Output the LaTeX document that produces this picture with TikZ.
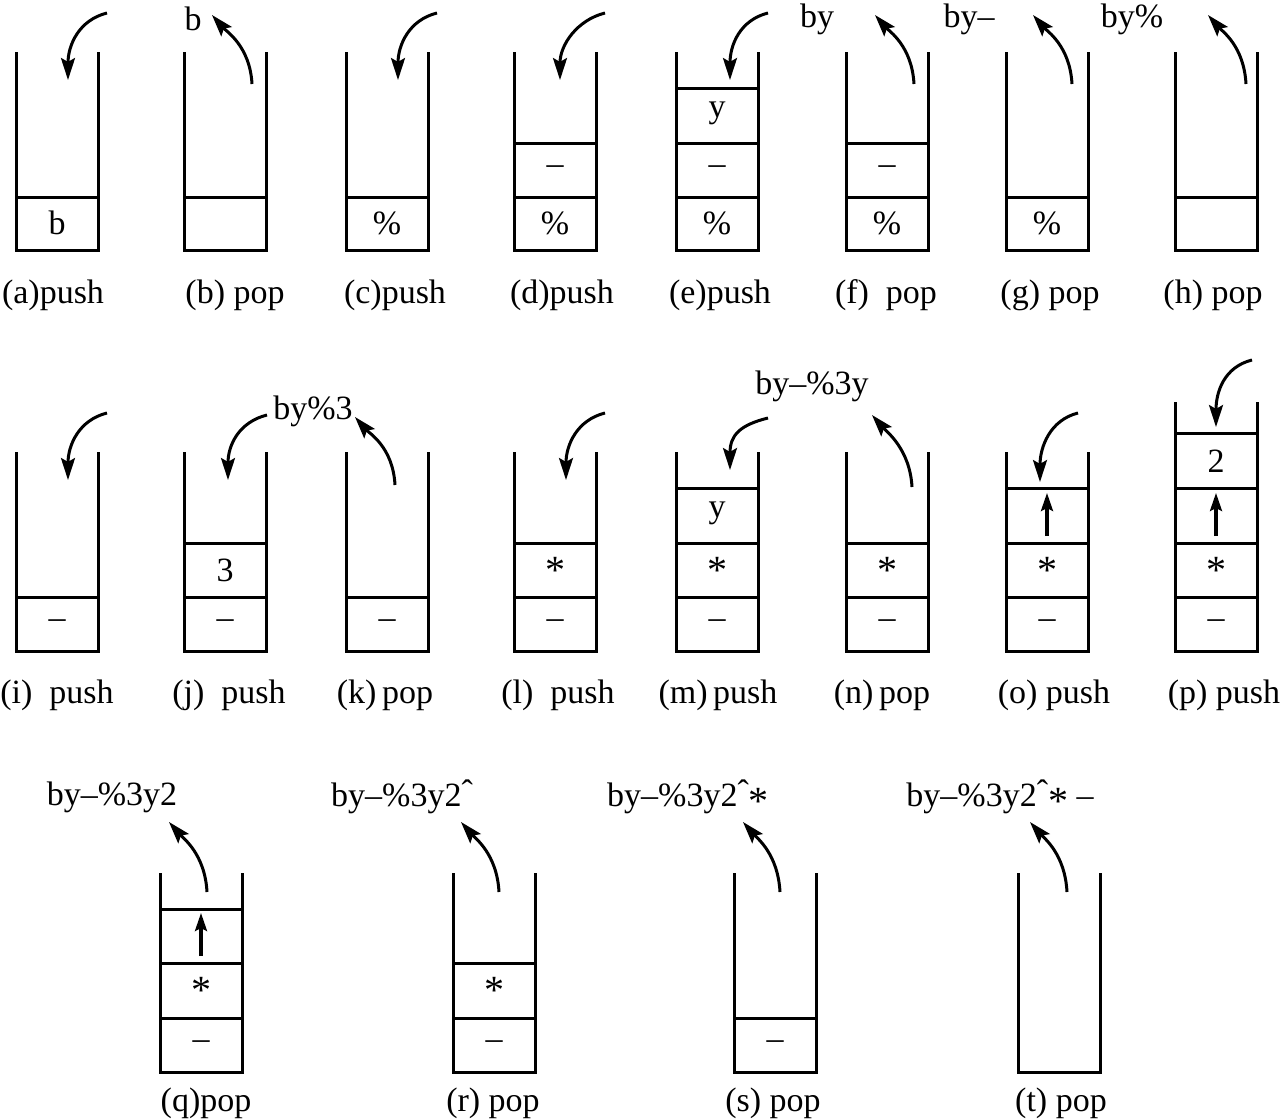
\documentclass[tikz,border=0pt]{standalone}
\usepackage{fontspec}
\setmainfont{Liberation Serif}
\usetikzlibrary{arrows.meta}
\newcommand{\cast}{\raisebox{-0.5ex}{\fontsize{20}{20}\selectfont *}}
\newcommand{\caretmark}{\raisebox{0.2ex}{ˆ}}

\begin{document}
\begin{tikzpicture}[x=0.5pt,y=-0.5pt,
  wall/.style={line width=1.5pt},
  flow/.style={line width=1.5pt,-{Stealth[length=11pt,width=7pt,inset=2pt]}},
  rise/.style={line width=1.6pt,-{Stealth[length=9pt,width=6pt,inset=1.5pt]}},
  txt/.style={font=\fontsize{17}{20}\selectfont,inner sep=0pt},
  ]
  \useasboundingbox (0,0) rectangle (1282,1120);

  % row 1: walls and cell lines
  \foreach \x in {16,184,346,514,676,846,1006,1175}
    \draw[wall] (\x,52) -- (\x,250) -- (\x+82,250) -- (\x+82,52);
  \foreach \x/\y in {16/197,184/197,346/197,514/197,514/143,676/197,676/143,676/88,
                     846/197,846/143,1006/197,1175/197}
    \draw[wall] (\x,\y) -- +(82,0);

  % row 2
  \foreach \x in {16,184,346,514,676,846,1006}
    \draw[wall] (\x,452) -- (\x,651) -- (\x+82,651) -- (\x+82,452);
  \draw[wall] (1175,402) -- (1175,651) -- (1257,651) -- (1257,402);
  \foreach \x/\y in {16/597,184/597,184/543,346/597,514/597,514/543,676/597,676/543,676/488,
                     846/597,846/543,1006/597,1006/543,1006/488,1175/597,1175/543,1175/488,1175/433}
    \draw[wall] (\x,\y) -- +(82,0);

  % row 3
  \foreach \x in {160,453,734,1018}
    \draw[wall] (\x,873) -- (\x,1072) -- (\x+82,1072) -- (\x+82,873);
  \foreach \x/\y in {160/1018,160/963,160/909,453/1018,453/963,734/1018}
    \draw[wall] (\x,\y) -- +(82,0);

  % cell contents
  \node[txt] (a1) at (57,223) {b};
  \node[txt] (c1) at (387,223) {\%};
  \node[txt] (d1) at (555,223) {\%};
  \node[txt] (d2) at (555,170) {\textendash};
  \node[txt] (e1) at (717,223) {\%};
  \node[txt] (e2) at (717,170) {\textendash};
  \node[txt] (e3) at (717,113) {y};
  \node[txt] (f1) at (887,223) {\%};
  \node[txt] (f2) at (887,170) {\textendash};
  \node[txt] (g1) at (1047,223) {\%};

  \node[txt] (i1) at (57,624) {\textendash};
  \node[txt] (j1) at (225,624) {\textendash};
  \node[txt] (j2) at (225,570) {3};
  \node[txt] (k1) at (387,624) {\textendash};
  \node[txt] (l1) at (555,624) {\textendash};
  \node[txt] (l2) at (555,570) {\cast};
  \node[txt] (m1) at (717,624) {\textendash};
  \node[txt] (m2) at (717,570) {\cast};
  \node[txt] (m3) at (717,513) {y};
  \node[txt] (n1) at (887,624) {\textendash};
  \node[txt] (n2) at (887,570) {\cast};
  \node[txt] (o1) at (1047,624) {\textendash};
  \node[txt] (o2) at (1047,570) {\cast};
  \node[txt] (p1) at (1216,624) {\textendash};
  \node[txt] (p2) at (1216,570) {\cast};
  \node[txt] (p4) at (1216,461) {2};

  \node[txt] (q1) at (201,1045) {\textendash};
  \node[txt] (q2) at (201,990) {\cast};
  \node[txt] (r1) at (494,1045) {\textendash};
  \node[txt] (r2) at (494,990) {\cast};
  \node[txt] (s1) at (775,1045) {\textendash};

  % up marks in cells
  \coordinate (o3-lo) at (1047,536); \coordinate (o3-hi) at (1047,493);
  \coordinate (p3-lo) at (1216,536); \coordinate (p3-hi) at (1216,493);
  \coordinate (q3-lo) at (201,956);  \coordinate (q3-hi) at (201,913);
  \draw[rise] (o3-lo) -- (o3-hi);
  \draw[rise] (p3-lo) -- (p3-hi);
  \draw[rise] (q3-lo) -- (q3-hi);

  % output strings
  \node[txt] (out-b) at (193,19) {b};
  \node[txt] (out-f) at (817,19) {by};
  \node[txt] (out-g) at (969,19) {by\textendash};
  \node[txt] (out-h) at (1132,19) {by\%};
  \node[txt] (out-k) at (313,411) {by\%3};
  \node[txt] (out-n) at (812,386) {by\textendash\%3y};
  \node[txt] (out-q) at (112,797) {by\textendash\%3y2};
  \node[txt] (out-r) at (402,797) {by\textendash\%3y2\caretmark};
  \node[txt] (out-s) at (688,797) {by\textendash\%3y2\caretmark\cast};
  \node[txt] (out-t) at (1000,797) {by\textendash\%3y2\caretmark\cast\ \textendash};

  % push arrows
  \foreach \n/\sx/\sy/\tx/\ty in {a/107/13/68/80, c/437/13/398/80, d/605/13/560/80, e/768/13/730/80,
                                  i/107/413/68/480, j/267/415/228/480, l/605/413/566/480,
                                  m/768/418/730/470, o/1078/413/1040/482, p/1252/360/1216/427} {
    \coordinate (\n-src) at (\sx,\sy);
    \coordinate (\n-in) at (\tx,\ty);
    \draw[flow] (\n-src) .. controls +(-28,7) and +(0,-35) .. (\n-in);
  }

  % pop arrows
  \foreach \n/\sx/\sy/\tx/\ty in {b/252/84/212/15, f/914/84/875/15, g/1072/84/1033/15, h/1246/84/1208/15,
                                  k/395/485/355/417, n/912/487/872/415,
                                  q/207/892/169/822, r/499/892/461/822, s/780/892/743/822, t/1067/892/1030/822} {
    \coordinate (\n-top) at (\sx,\sy);
    \coordinate (\n-out) at (\tx,\ty);
    \draw[flow] (\n-top) .. controls +(-2,-38) and +(14,16) .. (\n-out);
  }

  % captions
  \node[txt] (cap-a) at (53,295) {(a)push};
  \node[txt] (cap-b) at (235,295) {(b) pop};
  \node[txt] (cap-c) at (395,295) {(c)push};
  \node[txt] (cap-d) at (562,295) {(d)push};
  \node[txt] (cap-e) at (720,295) {(e)push};
  \node[txt] (cap-f) at (886,295) {(f)\ \ pop};
  \node[txt] (cap-g) at (1050,295) {(g) pop};
  \node[txt] (cap-h) at (1213,295) {(h) pop};

  \node[txt] (cap-i) at (57,695) {(i)\ \ push};
  \node[txt] (cap-j) at (229,695) {(j)\ \ push};
  \node[txt] (cap-k) at (385,695) {(k)\,pop};
  \node[txt] (cap-l) at (558,695) {(l)\ \ push};
  \node[txt] (cap-m) at (718,695) {(m)\,push};
  \node[txt] (cap-n) at (882,695) {(n)\,pop};
  \node[txt] (cap-o) at (1054,695) {(o) push};
  \node[txt] (cap-p) at (1224,695) {(p) push};

  \node[txt] (cap-q) at (206,1103) {(q)pop};
  \node[txt] (cap-r) at (493,1103) {(r) pop};
  \node[txt] (cap-s) at (773,1103) {(s) pop};
  \node[txt] (cap-t) at (1061,1103) {(t) pop};
\end{tikzpicture}
\end{document}
